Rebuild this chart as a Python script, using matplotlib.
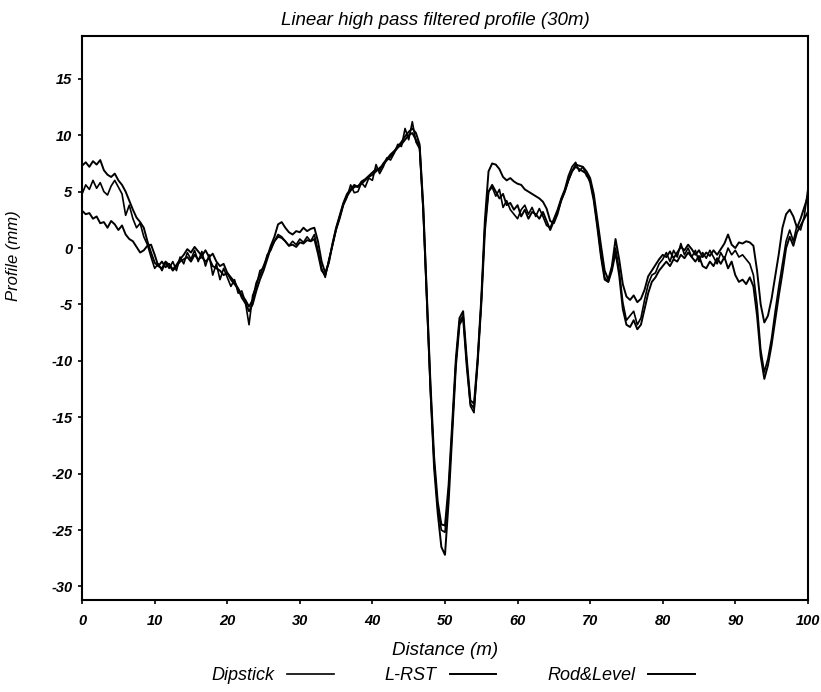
import numpy as np
import matplotlib
matplotlib.use("Agg")
import matplotlib.pyplot as plt

plt.rcParams["font.family"] = ["Liberation Sans", "DejaVu Sans"]

# distance along the profile, 0.5 m steps
distance = np.arange(0, 100.5, 0.5)

# (mm)
dipstick = [
    4.8, 5.6, 5.2, 6.0, 5.3, 5.8, 5.0, 4.7, 5.5, 6.0,
    5.4, 4.8, 2.9, 3.8, 2.6, 1.8, 2.2, 1.0, 0.3, -0.8,
    -1.8, -1.4, -2.0, -1.3, -1.8, -1.2, -2.0, -0.8, -1.4, -0.4,
    -1.0, -0.2, -1.2, -0.3, -1.6, -0.6, -2.4, -1.4, -2.8, -1.8,
    -2.6, -3.4, -2.8, -4.0, -3.8, -4.8, -6.8, -4.2, -3.4, -2.0,
    -1.8, -0.6, -0.2, 0.6, 1.2, 1.0, 0.6, 0.2, 0.6, 0.3,
    0.8, 0.5, 1.0, 0.6, 1.2, -0.2, -1.8, -2.6, -1.0, 0.2,
    1.6, 2.6, 3.8, 4.5, 5.6, 4.9, 5.0, 5.8, 5.4, 6.2,
    6.0, 7.4, 6.6, 7.2, 8.0, 7.8, 8.4, 9.2, 9.0, 10.6,
    9.6, 11.2, 9.4, 8.8, 3.2, -4.8, -12.8, -19.0, -23.0, -25.0,
    -25.2, -21.5, -16.0, -10.2, -6.5, -6.0, -10.2, -14.0, -14.6, -10.0,
    -4.8, 2.0, 5.0, 5.4, 4.6, 5.2, 3.6, 4.2, 3.4, 3.0,
    2.6, 3.4, 3.8, 3.0, 3.6, 2.8, 3.5, 2.8, 2.0, 1.8,
    2.6, 3.4, 4.4, 5.2, 6.4, 7.2, 7.6, 6.8, 7.2, 6.4,
    6.0, 4.4, 2.0, -0.6, -2.6, -3.0, -1.8, 0.0, -2.0, -4.8,
    -6.4, -6.0, -5.6, -6.8, -6.2, -4.6, -3.2, -2.4, -2.2, -1.4,
    -1.0, -0.4, -1.2, -0.2, -0.8, 0.4, -0.6, 0.0, -0.8, -0.2,
    -1.2, -0.4, -0.9, -0.2, -0.8, -1.4, -0.4, -1.0, 0.0, -0.6,
    -0.2, -0.8, -0.6, -1.0, -1.4, -2.4, -5.0, -9.0, -11.0, -9.8,
    -8.0, -5.6, -3.4, -1.4, 0.6, 1.6, 0.6, 2.0, 1.6, 2.8,
    5.2,
]

lrst = [
    7.3, 7.6, 7.2, 7.7, 7.4, 7.8, 6.9, 6.5, 6.3, 6.6,
    6.0, 5.6, 5.0, 4.2, 3.4, 2.7, 2.3, 1.8, 0.6, -0.4,
    -1.3, -1.6, -1.2, -1.7, -1.4, -1.9, -1.5, -1.0, -0.6, -0.1,
    -0.4, 0.1, -0.3, -0.7, -0.2, -0.8, -0.5, -1.2, -1.6, -1.4,
    -2.2, -2.6, -3.0, -3.6, -4.2, -4.6, -5.2, -4.6, -3.1, -2.4,
    -1.6, -0.8, 0.2, 1.0, 2.1, 2.3, 1.8, 1.4, 1.2, 1.5,
    1.4, 1.8, 1.5, 1.7, 1.8, 0.6, -1.2, -2.2, -1.3, 0.4,
    1.8, 2.9, 4.0, 4.8, 5.2, 5.6, 5.4, 5.9, 6.1, 6.4,
    6.7, 7.0, 6.9, 7.5, 7.9, 8.3, 8.6, 9.0, 9.4, 9.9,
    10.3, 10.6, 10.2, 9.2, 3.8, -4.0, -12.0, -18.5, -22.5, -24.5,
    -24.6, -21.0, -15.5, -9.8, -6.2, -5.6, -9.8, -13.5, -13.8, -9.8,
    -4.5, 2.5, 6.8, 7.5, 7.4, 7.0, 6.3, 6.0, 6.2, 5.9,
    5.7, 5.6, 5.2, 5.0, 4.8, 4.6, 4.4, 4.1, 3.5, 2.4,
    2.2, 3.0, 4.2, 5.0, 6.0, 6.8, 7.4, 7.3, 7.2, 6.8,
    6.2, 4.8, 2.5, 0.2, -2.0, -2.8, -1.6, 0.8, -1.0, -3.2,
    -4.3, -4.6, -4.2, -4.8, -4.5, -3.7, -2.5, -2.0, -1.5, -1.0,
    -0.6, -0.8, -0.3, -0.9, -0.4, 0.1, -0.2, 0.3, -0.1, -0.6,
    -0.2, -0.8, -0.4, -0.7, -0.2, -0.6, -0.1, 0.4, 1.2, 0.3,
    0.0, 0.5, 0.4, 0.6, 0.5, 0.2, -2.0, -5.0, -6.6, -6.0,
    -4.5, -2.5, -0.5, 1.8, 3.0, 3.4, 2.8, 1.8, 2.6, 3.6,
    4.6,
]

rod_level = [
    3.3, 3.0, 3.1, 2.6, 2.8, 2.2, 2.3, 1.8, 2.4, 2.1,
    1.6, 2.0, 1.2, 0.8, 0.6, 0.1, -0.4, -0.2, 0.2, 0.3,
    -0.6, -1.6, -1.8, -1.2, -1.5, -2.0, -1.6, -1.2, -1.0, -0.8,
    -1.2, -0.6, -1.0, -0.8, -1.2, -0.9, -1.6, -1.8, -2.0, -2.4,
    -2.2, -2.8, -3.2, -3.6, -4.4, -4.9, -5.6, -5.0, -3.8, -2.8,
    -2.0, -1.0, 0.0, 0.6, 1.0, 0.9, 0.6, 0.2, 0.3, 0.1,
    0.5, 0.4, 0.7, 0.6, 0.8, -0.5, -2.0, -2.4, -1.2, 0.3,
    1.7, 2.8, 3.9, 4.6, 5.1, 5.4, 5.5, 5.7, 6.0, 6.3,
    6.5, 6.8, 7.1, 7.4, 7.8, 8.1, 8.5, 8.9, 9.2, 9.6,
    10.0, 10.2, 9.6, 9.0, 3.5, -4.5, -12.5, -19.5, -23.5, -26.5,
    -27.2, -22.5, -16.5, -10.5, -6.8, -6.2, -10.5, -13.8, -14.2, -10.2,
    -5.0, 1.5, 5.0, 5.6, 5.0, 4.4, 4.8, 3.8, 4.0, 3.4,
    3.8, 2.8, 3.4, 2.6, 3.2, 3.0, 2.6, 3.2, 2.4, 1.6,
    2.4, 3.2, 4.2, 5.0, 6.0, 6.8, 7.2, 7.0, 6.8, 6.6,
    5.8, 4.2, 1.8, -0.8, -2.8, -3.0, -2.0, -0.4, -2.4, -5.4,
    -6.8, -7.0, -6.4, -7.2, -6.8, -5.4, -4.0, -3.0, -2.6, -2.0,
    -1.6, -1.2, -1.6, -1.0, -1.2, -0.6, -0.9, -0.4, -0.8, -1.2,
    -0.7, -1.6, -1.8, -1.2, -1.6, -0.9, -1.4, -0.8, -1.8, -1.2,
    -2.4, -3.0, -2.8, -3.2, -2.6, -3.4, -6.0, -9.6, -11.6, -10.4,
    -8.6, -6.4, -4.2, -2.2, 0.0, 1.0, 0.2, 1.4, 2.0, 2.6,
    3.2,
]

y_ticks = [-30, -25, -20, -15, -10, -5, 0, 5, 10, 15]
x_ticks = [0, 10, 20, 30, 40, 50, 60, 70, 80, 90, 100]

fig = plt.figure(figsize=(8.21, 6.92), dpi=100)
ax = fig.add_axes([0.100, 0.133, 0.884, 0.815])

ax.plot(distance, dipstick, color="black", lw=1.2, label="Dipstick")
ax.plot(distance, lrst, color="black", lw=1.4, label="L-RST")
ax.plot(distance, rod_level, color="black", lw=1.4, label="Rod&Level")

ax.set_xlim(0, 100)
ax.set_ylim(-31.2, 18.8)
ax.set_xticks(x_ticks)
ax.set_yticks(y_ticks)

tick_font = dict(fontstyle="italic", fontweight="bold", fontsize=10.5)
ax.set_xticklabels([str(t) for t in x_ticks], **tick_font)
ax.set_yticklabels([str(t) for t in y_ticks], **tick_font)
ax.tick_params(axis="both", direction="out", length=3, width=1.2, color="black")
ax.tick_params(axis="x", pad=7)
ax.tick_params(axis="y", pad=4)

for side in ax.spines.values():
    side.set_linewidth(1.5)

ax.set_title("Linear high pass filtered profile (30m)", fontstyle="italic",
             fontsize=13.5, pad=8, x=0.487)
ax.set_xlabel("Distance (m)", fontstyle="italic", fontsize=13.5, labelpad=10)
ax.set_ylabel("Profile (mm)", fontstyle="italic", fontsize=12)
ax.yaxis.set_label_coords(-0.084, 0.61)

fig.legend(loc="lower center", bbox_to_anchor=(0.552, -0.012), ncol=3,
           frameon=False, markerfirst=False, handlelength=2.6,
           handletextpad=0.7, columnspacing=2.8,
           prop=dict(style="italic", size=13))

fig.savefig("out.png", dpi=100)
